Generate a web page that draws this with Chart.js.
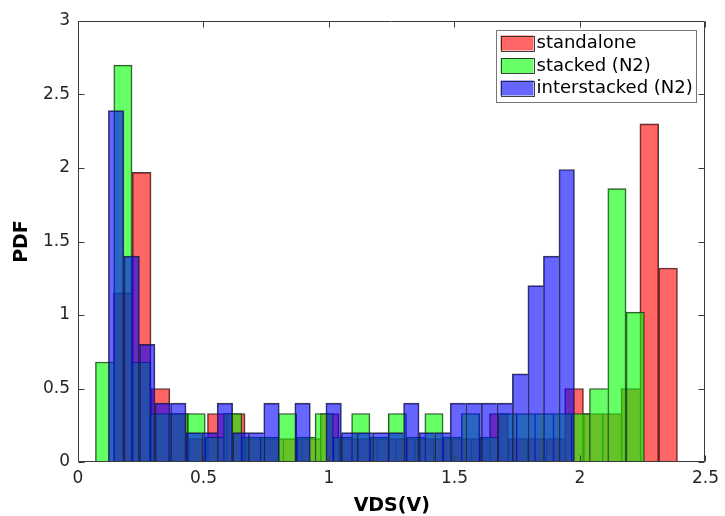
<!DOCTYPE html>
<html>
<head>
<meta charset="utf-8">
<script src="https://cdn.jsdelivr.net/npm/chart.js@4.4.1/dist/chart.umd.min.js"></script>
<style>
  html, body { margin: 0; padding: 0; background: #fff; }
  #wrap { width: 725px; height: 516px; }
</style>
</head>
<body>
<div id="wrap"><canvas id="graphique"></canvas></div>
<script>
// Histogrammes normalisés en pdf : début du 1er bin, largeur des bins, hauteurs
const labels = ["standalone", "stacked (N2)", "interstacked (N2)"];

const standaloneStart = 0.1413;
const standaloneWidth = 0.0749;
const standalonePdf = [1.15, 1.97, 0.50, 0.33, 0.16, 0.33, 0.33, 0.16, 0.16, 0.16,
                       0.16, 0.33, 0.16, 0.16, 0.16, 0.16, 0.16, 0.16, 0.16, 0.16,
                       0.33, 0.16, 0.16, 0.16, 0.50, 0.33, 0.33, 0.50, 2.30, 1.32];

const stackedStart = 0.0696;
const stackedWidth = 0.0729;
const stackedPdf = [0.68, 2.70, 0.68, 0.33, 0.33, 0.33, 0.17, 0.33, 0.17, 0.17,
                    0.33, 0.17, 0.33, 0.17, 0.33, 0.17, 0.33, 0.17, 0.33, 0.17,
                    0.33, 0.17, 0.33, 0.33, 0.33, 0.33, 0.33, 0.50, 1.86, 1.02];

const interStart = 0.121;
const interWidth = 0.0619;
const interPdf = [2.39, 1.40, 0.80, 0.40, 0.40, 0.20, 0.20, 0.40, 0.20, 0.20,
                  0.40, 0, 0.40, 0, 0.40, 0.20, 0.20, 0.20, 0.20, 0.40,
                  0.20, 0.20, 0.40, 0.40, 0.40, 0.40, 0.60, 1.20, 1.40, 1.99];

const xTicks = [0, 0.5, 1, 1.5, 2, 2.5];
const yTicks = [0, 0.5, 1, 1.5, 2, 2.5, 3];

const police = '"DejaVu Sans", sans-serif';

// centres des bins
function versPoints(start, width, pdf) {
	return pdf.map((v, i) => ({ x: start + width * (i + 0.5), y: v }));
}

// bordure façon matlab : un seul trait entre deux barres voisines
function bordure(ctx) {
	if (ctx.type !== "data") return 1;
	const d = ctx.dataset.data;
	const i = ctx.dataIndex;
	const suiv = d[i + 1];
	return { top: 1, left: 1, bottom: 0, right: (!suiv || suiv.y < d[i].y) ? 1 : 0 };
}

function serie(label, start, width, pdf, couleur, ordre) {
	return {
		label: label,
		data: versPoints(start, width, pdf),
		binWidth: width,
		backgroundColor: couleur,
		borderColor: "rgba(30,30,30,0.85)",
		borderWidth: bordure,
		borderSkipped: false,
		grouped: false,
		order: ordre
	};
}

// largeur des barres = largeur du bin en pixels
const largeurBins = {
	id: "largeurBins",
	beforeDatasetsUpdate(chart) {
		const x = chart.scales.x;
		chart.data.datasets.forEach(ds => {
			ds.barThickness = x.getPixelForValue(ds.binWidth) - x.getPixelForValue(0);
		});
	}
};

// cadre + graduations vers l'intérieur
const boiteAxes = {
	id: "boiteAxes",
	afterDatasetsDraw(chart) {
		const { ctx, chartArea: a, scales: { x, y } } = chart;
		const L = Math.round(a.left) + 0.5, R = Math.round(a.right) - 0.5;
		const T = Math.round(a.top) + 0.5, B = Math.round(a.bottom) - 0.5;
		ctx.save();
		ctx.strokeStyle = "#3a3a3a";
		ctx.lineWidth = 1;
		ctx.beginPath();
		ctx.rect(L, T, R - L, B - T);
		for (const v of xTicks) {
			const px = Math.round(x.getPixelForValue(v)) + 0.5;
			ctx.moveTo(px, B); ctx.lineTo(px, B - 6);
			ctx.moveTo(px, T); ctx.lineTo(px, T + 6);
		}
		for (const v of yTicks) {
			const py = Math.round(y.getPixelForValue(v)) + 0.5;
			ctx.moveTo(L, py); ctx.lineTo(L + 6, py);
			ctx.moveTo(R, py); ctx.lineTo(R - 6, py);
		}
		ctx.stroke();
		ctx.restore();
	}
};

// légende dans le coin haut droit
const legende = {
	id: "legende",
	afterDraw(chart) {
		const { ctx, chartArea: a } = chart;
		const ds = chart.data.datasets;
		ctx.save();
		ctx.font = "18px " + police;
		const textW = Math.max(...ds.map(d => ctx.measureText(d.label).width));
		const boxW = 4 + 33 + 3 + textW + 4;
		const right = Math.round(a.right - 9) + 0.5;
		const left = Math.round(right - boxW) + 0.5;
		const top = Math.round(a.top + 9) + 0.5;
		const boxH = 72;
		ctx.fillStyle = "#fff";
		ctx.fillRect(left, top, right - left, boxH);
		ctx.strokeStyle = "#777";
		ctx.lineWidth = 1;
		ctx.strokeRect(left, top, right - left, boxH);
		ds.forEach((d, i) => {
			const sy = top + 5 + i * 22.5;
			ctx.fillStyle = d.backgroundColor;
			ctx.fillRect(left + 4, sy, 33, 15);
			ctx.strokeStyle = "rgba(30,30,30,0.85)";
			ctx.strokeRect(Math.round(left + 4) + 0.5, Math.round(sy) + 0.5, 33, 15);
			ctx.fillStyle = "#000";
			ctx.textBaseline = "middle";
			ctx.fillText(d.label, left + 40, sy + 8);
		});
		ctx.restore();
	}
};

const data = {
	datasets: [
		serie(labels[0], standaloneStart, standaloneWidth, standalonePdf, "rgba(255,0,0,0.6)", 3),
		serie(labels[1], stackedStart, stackedWidth, stackedPdf, "rgba(0,255,0,0.6)", 2),
		serie(labels[2], interStart, interWidth, interPdf, "rgba(0,0,255,0.6)", 1)
	]
};

const config = {
	type: "bar",
	data: data,
	options: {
		responsive: true,
		maintainAspectRatio: false,
		animation: false,
		layout: { padding: { top: 21, right: 16, left: 0, bottom: 0 } },
		plugins: {
			legend: { display: false },
			tooltip: { enabled: false }
		},
		scales: {
			x: {
				type: "linear",
				min: 0,
				max: 2.5,
				offset: false,
				grid: { display: false, drawTicks: false },
				border: { display: false },
				afterBuildTicks: s => { s.ticks = xTicks.map(v => ({ value: v })); },
				afterFit: s => { s.height = 54; },
				ticks: {
					padding: 6, color: "#262626", font: { family: police, size: 17 }, maxRotation: 0,
					callback: v => String(v)
				},
				title: {
					display: true, text: "VDS(V)", color: "#000",
					font: { family: police, size: 19, weight: "bold", lineHeight: 1 },
					padding: { top: 0, bottom: 0 }
				}
			},
			y: {
				min: 0,
				max: 3,
				grid: { display: false, drawTicks: false },
				border: { display: false },
				afterBuildTicks: s => { s.ticks = yTicks.map(v => ({ value: v })); },
				afterFit: s => { s.width = 78; },
				ticks: {
					padding: 8, color: "#262626", font: { family: police, size: 17 },
					callback: v => String(v)
				},
				title: {
					display: true, text: "PDF", color: "#000",
					font: { family: police, size: 19, weight: "bold", lineHeight: 1 },
					padding: { top: 13, bottom: 0 }
				}
			}
		}
	},
	plugins: [largeurBins, boiteAxes, legende]
};

const graphique = new Chart(document.querySelector("#graphique"), config);
graphique.update("none");
</script>
</body>
</html>
